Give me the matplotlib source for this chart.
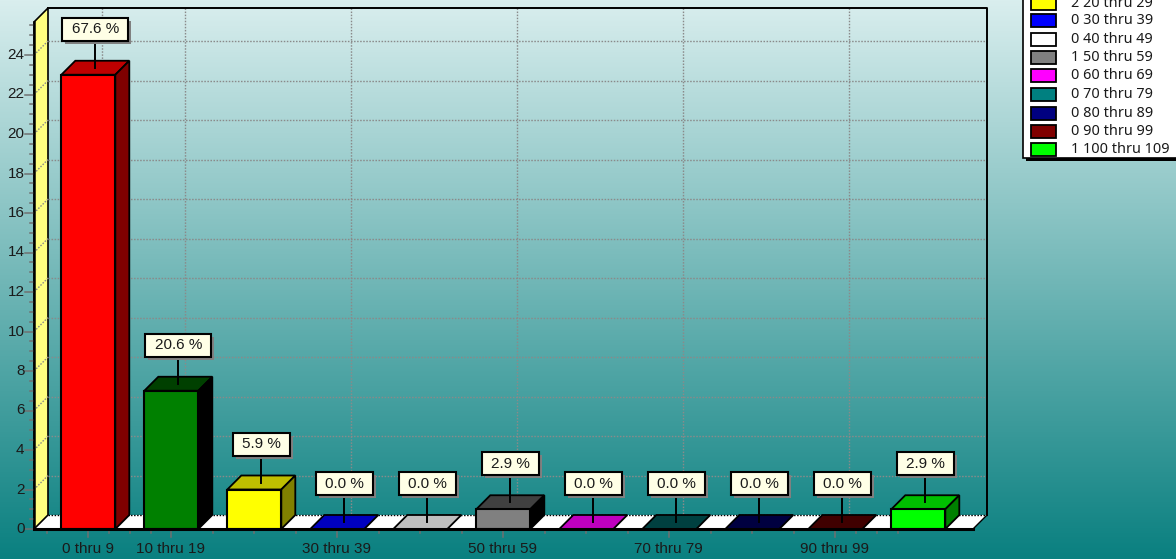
import numpy as np
import matplotlib
matplotlib.use("Agg")
import matplotlib.pyplot as plt
from matplotlib.patches import Polygon, Rectangle
from matplotlib.colors import LinearSegmentedColormap

categories = ["0 thru 9", "10 thru 19", "20 thru 29", "30 thru 39", "40 thru 49", "50 thru 59",
              "60 thru 69", "70 thru 79", "80 thru 89", "90 thru 99", "100 thru 109"]
counts = [23, 7, 2, 0, 0, 1, 0, 0, 0, 0, 1]
percent_labels = ["67.6 %", "20.6 %", "5.9 %", "0.0 %", "0.0 %", "2.9 %", "0.0 %", "0.0 %", "0.0 %", "0.0 %", "2.9 %"]
front_colors = ["#ff0000", "#008000", "#ffff00", "#0000ff", "#ffffff", "#808080", "#ff00ff", "#008080", "#000080", "#800000", "#00ff00"]
top_colors = ["#bf0000", "#004000", "#bfbf00", "#0000bf", "#bfbfbf", "#404040", "#bf00bf", "#004040", "#000040", "#400000", "#00bf00"]
side_colors = ["#7f0000", "#000000", "#808000", "#000080", "#808080", "#000000", "#800080", "#002020", "#000020", "#200000", "#008000"]
labelled_categories = [0, 1, 3, 5, 7, 9]
y_major = list(range(0, 26, 2))
y_minor = [v / 2 for v in range(0, 52) if v % 4 != 0]
x_minor = [-0.5, 0.25, 0.5, 0.75, 1.5, 2, 2.5, 3.5, 4, 4.5, 5.5, 6, 6.5, 7.5, 8, 8.5, 9.25, 9.5, 9.75]

SANS = ["Liberation Sans"]
TEXT_C = "#1a1a1a"
DEPTH = 14
def Y(v): return 529 - v * 19.75
def X(c): return 88.3 + 83.0 * c

fig = plt.figure(figsize=(11.76, 5.59), dpi=100)
ax = fig.add_axes([0, 0, 1, 1])
ax.set_xlim(0, 1176); ax.set_ylim(559, 0); ax.axis("off")

cmap = LinearSegmentedColormap.from_list("bg", ["#d9eeee", "#0a8080"])
ax.imshow(np.linspace(0, 1, 256)[:, None], extent=(0, 1176, 559, 0), cmap=cmap, aspect="auto", zorder=0)

TOP = 25.67
x0, x1 = 34, 973
ax.add_patch(Polygon([(x0, Y(0)), (x1, Y(0)), (x1 + DEPTH, Y(0) - DEPTH), (x0 + DEPTH, Y(0) - DEPTH)], fc="white", ec="none", zorder=1))
ax.add_patch(Polygon([(x0, Y(0)), (x0 + DEPTH, Y(0) - DEPTH), (x0 + DEPTH, Y(TOP) - DEPTH), (x0, Y(TOP))], fc="#ffff80", ec="black", lw=1.2, zorder=1))

grid = dict(color="#8a8a8a", lw=1, ls=(0, (1.1, 1.1)), zorder=1.5)
for v in y_major[1:]:
    ax.plot([x0 + DEPTH, x1 + DEPTH], [Y(v) - DEPTH] * 2, **grid)
    ax.plot([x0, x0 + DEPTH], [Y(v), Y(v) - DEPTH], **grid)
for c in labelled_categories:
    ax.plot([X(c) + DEPTH] * 2, [Y(TOP) - DEPTH, Y(0) - DEPTH], **grid)
ax.plot([x0 + DEPTH, x1 + DEPTH], [Y(0) - DEPTH] * 2, color="black", lw=1, ls=(0, (1.1, 1.1)), zorder=1.6)

ax.plot([x0 + DEPTH, x1 + DEPTH, x1 + DEPTH], [Y(TOP) - DEPTH, Y(TOP) - DEPTH, Y(0) - DEPTH], color="black", lw=1.4, zorder=2)
ax.plot([x1, x1 + DEPTH], [Y(0), Y(0) - DEPTH], color="black", lw=1, zorder=2)

tick_c = "#707070"
for v in y_major:
    ax.plot([x0 - 9, x0], [Y(v)] * 2, color=tick_c, lw=1.1, zorder=2)
    ax.text(24.5, Y(v), str(v), ha="right", va="center", fontsize=11, family=SANS, color=TEXT_C)
for v in y_minor:
    ax.plot([x0 - 4, x0], [Y(v)] * 2, color=tick_c, lw=1.1, zorder=2)
for c in labelled_categories:
    ax.plot([X(c)] * 2, [Y(0), Y(0) + 8], color=tick_c, lw=1.1, zorder=2)
    ax.text(X(c) - 0.5, 549, categories[c], ha="center", va="center", fontsize=11, family=SANS, color=TEXT_C)
for c in x_minor:
    ax.plot([X(c)] * 2, [Y(0), Y(0) + 4], color=tick_c, lw=1.1, zorder=2)

W = 27
for i, v in enumerate(counts):
    cx = X(i)
    l, r = cx - W, cx + W
    b, t = Y(0), Y(v)
    z = 3 + i * 0.01
    ax.add_patch(Polygon([(l, t), (r, t), (r + DEPTH, t - DEPTH), (l + DEPTH, t - DEPTH)], fc=top_colors[i],
                         ec="black", lw=1.3, zorder=z))
    if v > 0:
        ax.add_patch(Polygon([(r, b), (r + DEPTH, b - DEPTH), (r + DEPTH, t - DEPTH), (r, t)], fc=side_colors[i],
                             ec="black", lw=1.3, zorder=z))
        ax.add_patch(Rectangle((l, t), 2 * W, b - t, fc=front_colors[i], ec="black", lw=1.5, zorder=z + 0.001))
    mx = cx + DEPTH / 2
    my = t - DEPTH / 2
    bw = 66 if len(percent_labels[i]) > 5 else 57
    bh = 23
    bt = my - 27 - bh
    ax.plot([mx, mx], [my, bt + bh], color="black", lw=1.4, zorder=4)
    ax.add_patch(Rectangle((mx - bw / 2 + 3, bt + 3), bw, bh, fc="#808080", ec="none", zorder=4.1))
    ax.add_patch(Rectangle((mx - bw / 2, bt), bw, bh, fc="#ffffe6", ec="black", lw=1.5, zorder=4.2))
    ax.text(mx, bt + bh / 2, percent_labels[i], ha="center", va="center", fontsize=11, family=SANS,
            color=TEXT_C, zorder=4.3)

ax.plot([x0, x0], [Y(TOP), Y(0)], color="black", lw=1.8, zorder=5)
ax.plot([x0, x1], [Y(0), Y(0)], color="black", lw=2.2, zorder=5)

ax.add_patch(Rectangle((1026, -5), 160, 166, fc="black", ec="none", zorder=6))
ax.add_patch(Rectangle((1022.5, -5), 160, 163, fc="white", ec="black", lw=1.2, zorder=6.1))
legend_y = [3, 20.5, 39, 57, 75, 94, 113, 131, 149]
for i, ly in zip(range(2, 11), legend_y):
    ax.add_patch(Rectangle((1031, ly - 6.5), 25, 13, fc=front_colors[i], ec="black", lw=1.3, zorder=6.2))
    ax.text(1071, ly + 0.5, f"{counts[i]} {categories[i]}", ha="left", va="center", fontsize=10.4, family="Noto Sans",
            color=TEXT_C, zorder=6.3)

fig.savefig("out.png", dpi=100)
